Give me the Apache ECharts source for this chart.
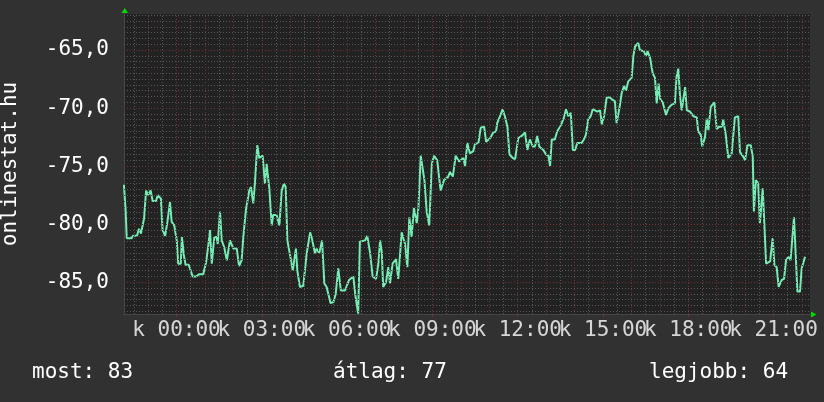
<!DOCTYPE html>
<html>
<head>
<meta charset="utf-8">
<script src="https://cdn.jsdelivr.net/npm/echarts@6/dist/echarts.min.js"></script>
<style>
html,body{margin:0;padding:0;background:#313131;}
#c{width:824px;height:402px;}
</style>
</head>
<body>
<div id="c"></div>
<script>
// time in hours relative to 00:00 of the labelled day
const hours = [-1.85,-1.79,-1.75,-1.58,-1.53,-1.39,-1.32,-1.25,-1.18,-1.14,-1.07,-1.00,-0.91,-0.84,-0.72,-0.66,-0.55,-0.49,-0.40,-0.32,-0.23,-0.17,-0.08,0.01,0.06,0.15,0.19,0.26,0.32,0.43,0.57,0.69,0.80,0.94,1.04,1.12,1.18,1.24,1.33,1.41,1.45,1.53,1.59,1.68,1.77,1.88,2.00,2.12,2.20,2.23,2.29,2.35,2.44,2.56,2.62,2.70,2.76,2.84,2.91,3.03,3.11,3.17,3.26,3.35,3.40,3.52,3.62,3.70,3.78,3.84,3.90,4.02,4.09,4.20,4.25,4.34,4.46,4.58,4.70,4.76,4.87,4.93,5.02,5.12,5.20,5.28,5.42,5.52,5.60,5.69,5.78,5.93,5.99,6.07,6.22,6.29,6.39,6.45,6.63,6.71,6.81,6.90,7.02,7.10,7.16,7.22,7.27,7.37,7.45,7.51,7.60,7.72,7.80,7.92,8.04,8.12,8.19,8.27,8.35,8.45,8.51,8.59,8.66,8.72,8.80,8.89,8.98,9.06,9.17,9.29,9.41,9.56,9.62,9.72,9.82,9.94,10.09,10.15,10.23,10.32,10.44,10.50,10.62,10.70,10.82,10.89,11.03,11.14,11.24,11.28,11.38,11.47,11.55,11.64,11.71,11.83,11.91,12.02,12.14,12.26,12.34,12.43,12.53,12.61,12.69,12.76,12.90,13.00,13.08,13.14,13.20,13.31,13.39,13.49,13.55,13.63,13.70,13.78,13.87,13.94,14.02,14.10,14.25,14.33,14.40,14.48,14.57,14.64,14.72,14.80,14.90,14.96,15.04,15.13,15.25,15.34,15.42,15.48,15.58,15.66,15.74,15.81,15.89,16.01,16.07,16.13,16.24,16.30,16.44,16.51,16.57,16.66,16.75,16.83,16.89,16.96,17.01,17.10,17.22,17.30,17.42,17.53,17.59,17.65,17.71,17.77,17.89,17.95,18.06,18.18,18.30,18.35,18.44,18.49,18.59,18.65,18.71,18.79,18.92,19.00,19.09,19.18,19.23,19.32,19.41,19.53,19.64,19.76,19.82,19.94,20.00,20.08,20.20,20.27,20.31,20.38,20.46,20.52,20.62,20.67,20.74,20.88,20.97,21.03,21.11,21.18,21.29,21.37,21.44,21.52,21.60,21.72,21.79,21.84,21.93,21.99,22.05,22.11];
const values = [-76.6,-78.8,-81.2,-81.2,-81.0,-81.0,-80.4,-80.8,-80.8,-79.5,-77.1,-77.5,-77.1,-78.0,-78.0,-77.5,-77.8,-80.5,-81.0,-79.8,-78.1,-79.8,-80.1,-81.4,-83.4,-83.4,-81.1,-82.7,-83.5,-83.5,-84.5,-84.5,-84.3,-84.3,-83.3,-81.8,-80.5,-83.4,-81.1,-81.1,-81.7,-78.9,-81.4,-82.0,-83.1,-81.4,-82.1,-82.1,-83.6,-83.6,-83.1,-81.1,-78.8,-77.1,-76.8,-78.2,-76.4,-73.2,-74.3,-74.1,-76.5,-74.8,-76.8,-80.1,-79.2,-79.2,-80.1,-77.1,-76.5,-76.8,-81.4,-83.0,-84.0,-82.1,-84.0,-85.4,-85.3,-82.5,-80.7,-81.2,-82.5,-82.1,-82.5,-81.4,-85.1,-85.4,-86.8,-86.7,-86.0,-83.8,-85.7,-85.7,-85.8,-84.8,-84.5,-86.1,-87.7,-81.5,-81.4,-81.0,-82.5,-84.5,-84.7,-83.4,-81.4,-82.4,-85.4,-85.0,-83.7,-85.1,-83.4,-83.0,-84.7,-80.7,-81.7,-83.7,-79.4,-81.1,-78.6,-79.9,-78.6,-74.1,-74.1,-76.2,-78.9,-80.1,-74.8,-74.1,-74.5,-77.1,-76.2,-75.9,-75.5,-75.9,-74.1,-74.6,-74.3,-75.0,-73.0,-73.9,-73.7,-73.1,-73.0,-71.7,-71.6,-72.9,-72.6,-72.1,-72.0,-71.3,-70.7,-70.1,-70.7,-71.6,-74.0,-74.3,-74.4,-72.6,-72.4,-72.1,-73.6,-72.7,-73.3,-73.3,-72.4,-73.3,-73.6,-74.0,-74.1,-75.0,-72.7,-72.7,-72.0,-71.6,-71.3,-70.8,-70.1,-70.7,-70.4,-73.6,-73.6,-73.0,-73.0,-72.7,-72.3,-71.0,-70.7,-70.1,-70.2,-70.3,-70.2,-71.4,-70.7,-69.1,-69.1,-69.3,-69.4,-71.3,-70.0,-68.7,-68.1,-68.5,-67.7,-67.4,-65.5,-64.7,-64.4,-65.0,-65.1,-65.5,-65.1,-65.7,-67.0,-67.4,-69.6,-67.9,-69.2,-69.5,-70.6,-70.0,-69.7,-69.6,-67.3,-66.6,-68.9,-70.2,-68.2,-70.2,-70.3,-70.7,-70.8,-72.0,-72.3,-73.3,-72.5,-70.9,-71.9,-69.9,-69.5,-71.8,-71.6,-71.6,-71.0,-72.3,-74.3,-73.9,-70.8,-70.7,-73.8,-74.2,-74.5,-73.2,-73.2,-74.2,-78.9,-76.2,-76.5,-79.9,-76.9,-76.9,-83.4,-83.2,-81.2,-83.5,-83.7,-85.4,-84.8,-84.7,-83.1,-82.8,-83.1,-79.4,-79.4,-85.8,-85.8,-83.8,-83.8,-82.8];

const xTickHours = [0,3,6,9,12,15,18,21];
const xTickLabels = ['k 00:00','k 03:00','k 06:00','k 09:00','k 12:00','k 15:00','k 18:00','k 21:00'];
const yTickValues = [-85,-80,-75,-70,-65];
const yTitle = 'onlinestat.hu';
const summaryTexts = ['most: 83','átlag: 77','legjobb: 64'];

const X_MIN = -1.847, X_MAX = 22.283, Y_MIN = -87.73, Y_MAX = -61.90;
const FONT = '"DejaVu Sans Mono", monospace';

const gridLines = [];
const minorStyle = {color:'#575757', width:1, type:[1,2]};
const majorStyle = {color:'#6e3434', width:1, type:[1,2]};
for (let k = -175; k <= -124; k++) {
  gridLines.push({yAxis: k/2, lineStyle: (k % 10 === 0) ? majorStyle : minorStyle});
}
for (let k = -3; k <= 44; k++) {
  gridLines.push({xAxis: k/2, lineStyle: (k % 2 === 0) ? majorStyle : minorStyle});
}

const chart = echarts.init(document.getElementById('c'), null, {renderer:'canvas'});
chart.setOption({
  animation: false,
  backgroundColor: '#313131',
  grid: {left:124, top:14, width:686, height:300, show:true, backgroundColor:'#222222', borderWidth:0,
         containLabel:false, outerBoundsMode:'none'},
  xAxis: {
    type:'value', min:X_MIN, max:X_MAX,
    splitLine:{show:false},
    axisLine:{show:true, onZero:false, lineStyle:{color:'#454545', width:1}},
    axisTick:{show:true, customValues: xTickHours, length:3, lineStyle:{color:'#6e3434'}},
    axisLabel:{show:false}
  },
  yAxis: {
    type:'value', min:Y_MIN, max:Y_MAX,
    name: yTitle, nameLocation:'middle', nameRotate:90, nameGap:103,
    nameTextStyle:{color:'#ffffff', fontFamily:FONT, fontSize:21},
    splitLine:{show:false},
    axisLine:{show:true, onZero:false, lineStyle:{color:'#454545', width:1}},
    axisTick:{show:false},
    axisLabel:{
      customValues: yTickValues,
      showMinLabel:true, showMaxLabel:true, hideOverlap:false,
      formatter: (v) => v.toFixed(1).replace('.', ','),
      color:'#ffffff', fontFamily:FONT, fontSize:21, margin:15
    }
  },
  series: [
    {
      type:'line', data:[], silent:true, z:1,
      markLine:{silent:true, symbol:'none', label:{show:false}, animation:false, data: gridLines}
    },
    {
      type:'line', z:3,
      data: hours.map((h, i) => [h, values[i]]),
      showSymbol:false, symbol:'none',
      lineStyle:{color:'#74ecb4', width:2},
      clip:true
    },
    {
      type:'scatter', z:4, silent:true, symbolSize:0, clip:false,
      data: xTickHours.map((h, i) => ({value:[h, Y_MIN], name: xTickLabels[i]})),
      label:{show:true, position:'bottom', distance:6, formatter:(p) => p.name,
             color:'#ffffff', fontFamily:FONT, fontSize:21},
      labelLayout:{hideOverlap:false}
    }
  ],
  graphic: [
    {type:'polygon', shape:{points:[[121.5,13],[128,13],[124.7,8]]}, style:{fill:'#00dd00'}},
    {type:'polygon', shape:{points:[[811,311.5],[811,317.5],[816.5,314.5]]}, style:{fill:'#00dd00'}},
    {type:'text', left:32, top:362, style:{text:summaryTexts[0], fill:'#ffffff', font:'21px ' + FONT}},
    {type:'text', left:333, top:362, style:{text:summaryTexts[1], fill:'#ffffff', font:'21px ' + FONT}},
    {type:'text', left:649, top:362, style:{text:summaryTexts[2], fill:'#ffffff', font:'21px ' + FONT}}
  ]
});
</script>
</body>
</html>
